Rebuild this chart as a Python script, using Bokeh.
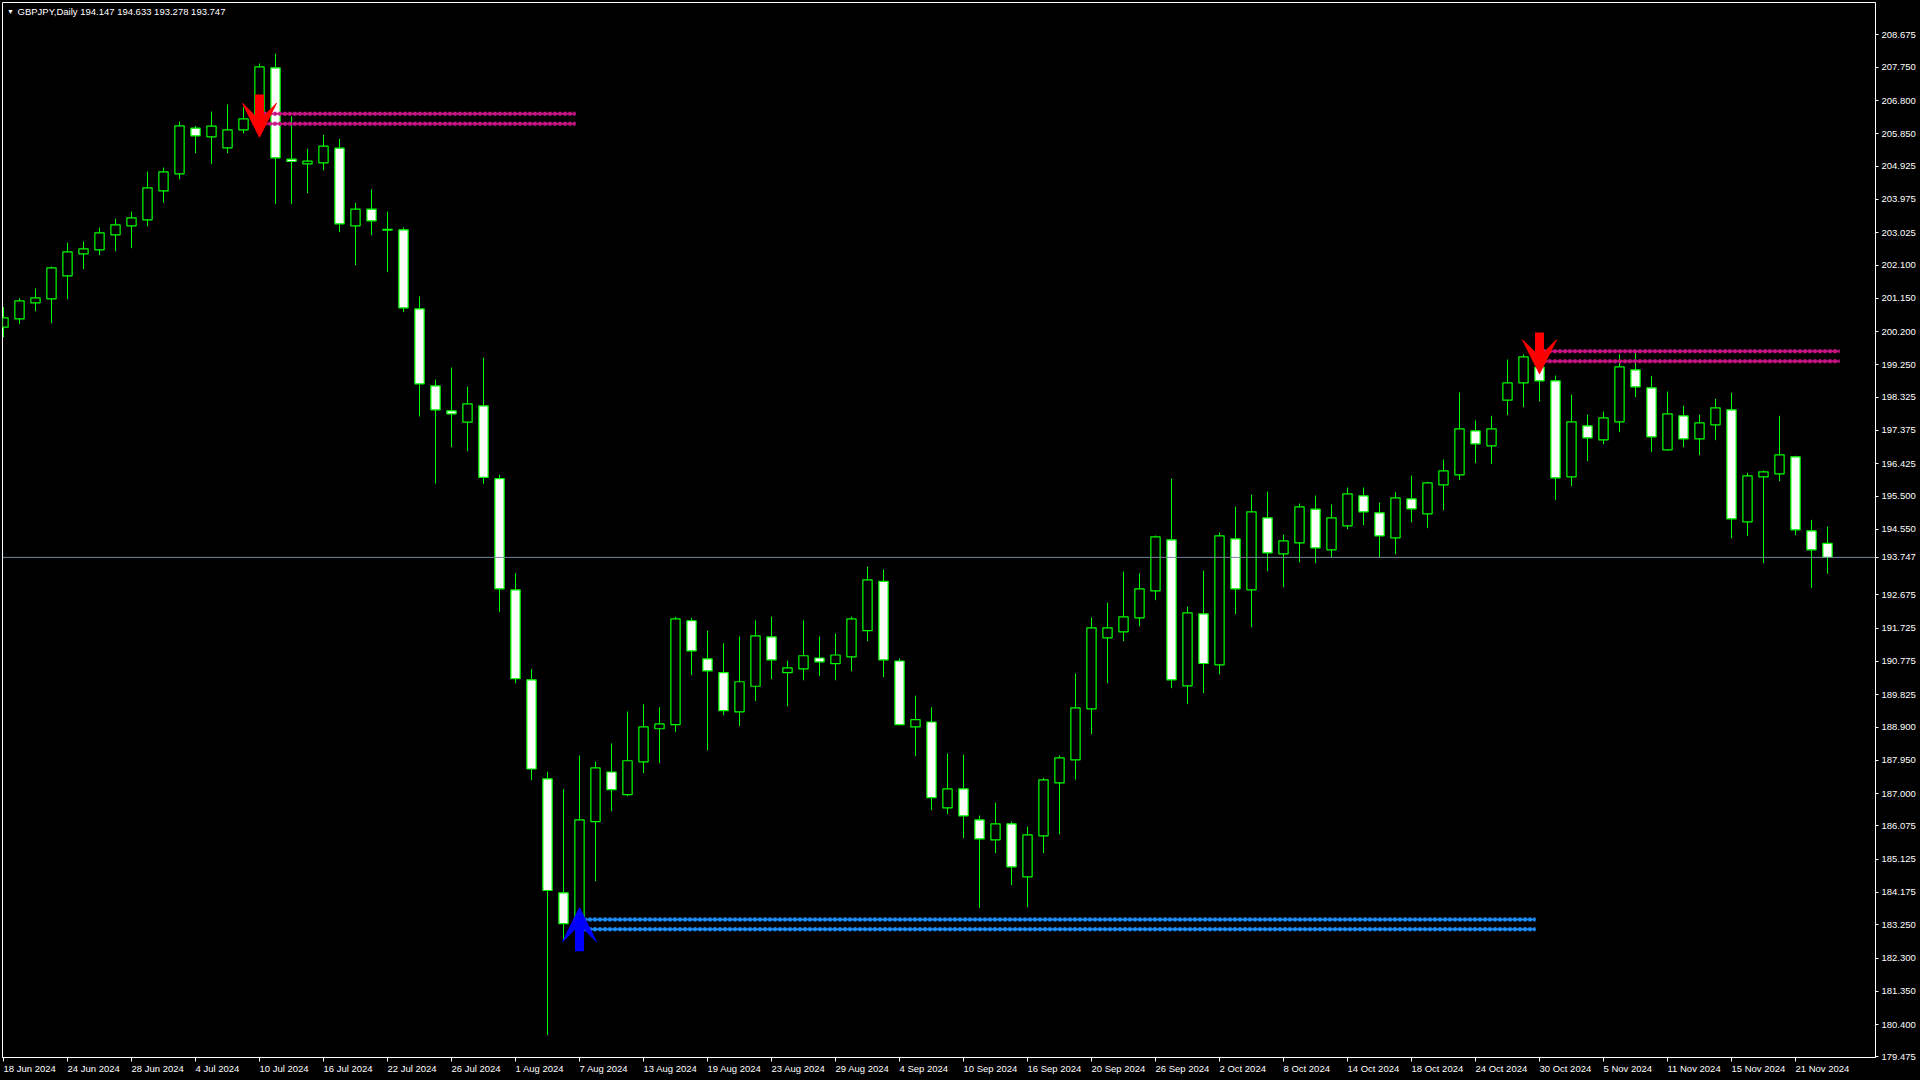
from bokeh.plotting import figure
from bokeh.models import (ColumnDataSource, Range1d, FixedTicker, Label, Arrow,
                          VeeHead, Span, LinearAxis, NumeralTickFormatter)
from bokeh.embed import file_html
from bokeh.resources import INLINE

symbol = "GBPJPY,Daily"

# ---- daily OHLC, 18 Jun 2024 .. 25 Nov 2024 (one value per trading day) ----
opens = [200.325, 200.563, 201.020, 201.134, 201.791, 202.420, 202.534, 202.963, 203.220, 203.391,
         204.220, 204.705, 206.010, 205.763, 205.448, 205.963, 206.270, 207.734, 205.125, 204.991,
         205.020, 205.439, 203.220, 203.696, 203.100, 203.105, 200.848, 198.648, 197.934, 197.610,
         198.077, 195.999, 192.817, 190.248, 187.421, 184.164, 183.350, 186.196, 187.615, 186.970,
         187.905, 188.851, 188.969, 191.936, 190.850, 190.452, 189.335, 190.065, 191.474, 190.452,
         190.560, 190.872, 190.710, 190.904, 191.656, 193.064, 190.786, 188.904, 189.044, 186.593,
         187.134, 186.248, 185.677, 186.134, 184.620, 185.791, 187.305, 187.963, 189.420, 191.448,
         191.620, 192.020, 192.791, 194.248, 190.077, 192.134, 190.677, 194.277, 192.820, 194.877,
         193.848, 194.163, 195.125, 193.963, 194.648, 195.505, 195.020, 194.305, 195.420, 194.991,
         195.820, 196.106, 197.363, 196.934, 198.239, 198.734, 199.182, 198.792, 196.049, 197.506,
         197.106, 197.620, 199.106, 198.592, 196.820, 197.792, 197.134, 197.534, 197.963, 194.763,
         196.049, 196.134, 196.620, 194.506, 194.147]
highs = [200.896, 201.153, 201.429, 202.058, 202.744, 202.772, 203.172, 203.429, 203.629, 204.772,
         204.886, 206.201, 206.077, 206.486, 206.686, 206.610, 207.858, 208.134, 206.353, 205.420,
         205.820, 205.705, 203.877, 204.258, 203.629, 203.172, 201.201, 198.829, 199.172, 198.629,
         199.450, 196.100, 193.290, 190.549, 187.625, 187.120, 188.088, 187.915, 188.432, 189.345,
         189.549, 189.463, 192.050, 192.022, 191.656, 191.291, 191.484, 191.947, 192.054, 190.796,
         191.947, 191.484, 191.570, 192.054, 193.484, 193.398, 190.861, 189.797, 189.463, 188.141,
         188.115, 186.372, 186.744, 186.201, 186.058, 187.448, 188.086, 190.429, 192.029, 192.458,
         193.344, 193.286, 194.372, 196.001, 192.344, 193.372, 194.458, 195.201, 195.544, 195.629,
         194.401, 195.286, 195.515, 195.258, 195.744, 195.744, 195.315, 195.620, 196.086, 195.905,
         196.544, 198.458, 197.658, 197.792, 199.401, 199.550, 199.450, 198.944, 198.401, 197.830,
         197.915, 199.544, 199.592, 198.934, 198.487, 198.077, 197.830, 198.277, 198.449, 196.163,
         196.230, 197.792, 196.650, 194.820, 194.633]
lows = [200.039, 200.410, 200.782, 200.439, 201.125, 201.982, 202.382, 202.496, 202.582, 203.210,
        203.886, 204.553, 205.296, 204.982, 205.296, 205.867, 206.000, 203.839, 203.839, 204.153,
        204.810, 203.039, 202.096, 202.953, 201.896, 200.753, 197.772, 195.858, 196.896, 196.782,
        195.850, 192.183, 190.150, 187.378, 180.101, 182.810, 183.000, 184.498, 186.497, 186.927,
        187.582, 187.873, 188.754, 190.388, 188.238, 189.238, 188.926, 189.646, 190.270, 189.496,
        190.237, 190.356, 190.237, 190.495, 191.355, 190.323, 188.950, 188.066, 186.529, 186.411,
        185.725, 183.725, 185.296, 184.382, 183.753, 185.296, 185.839, 187.401, 188.696, 190.153,
        191.353, 191.782, 192.525, 190.010, 189.553, 189.867, 190.410, 192.125, 191.753, 193.353,
        192.896, 193.610, 193.582, 193.753, 194.553, 194.667, 193.725, 193.839, 194.753, 194.582,
        195.096, 195.954, 196.439, 196.411, 197.811, 198.039, 198.201, 195.382, 195.782, 196.496,
        196.982, 197.325, 198.325, 196.754, 196.800, 196.896, 196.668, 197.096, 194.296, 194.354,
        193.582, 195.925, 194.382, 192.868, 193.278]
closes = [200.591, 201.077, 201.163, 202.020, 202.477, 202.563, 203.020, 203.248, 203.448, 204.305,
          204.763, 206.077, 205.791, 206.067, 205.963, 206.277, 207.764, 205.163, 205.058, 205.067,
          205.496, 203.277, 203.696, 203.363, 203.120, 200.877, 198.705, 197.963, 197.848, 198.134,
          196.031, 192.849, 190.280, 187.701, 184.229, 183.282, 186.249, 187.733, 187.109, 187.937,
          188.904, 188.990, 191.990, 191.076, 190.506, 189.367, 190.194, 191.506, 190.818, 190.592,
          190.936, 190.764, 190.958, 191.990, 193.107, 190.818, 188.969, 189.109, 186.884, 187.131,
          186.363, 185.705, 186.134, 184.905, 185.820, 187.391, 188.020, 189.448, 191.734, 191.734,
          192.048, 192.848, 194.334, 190.248, 192.163, 190.715, 194.363, 192.848, 195.048, 193.877,
          194.220, 195.191, 194.020, 194.877, 195.563, 195.048, 194.363, 195.448, 195.134, 195.877,
          196.220, 197.420, 196.992, 197.420, 198.734, 199.477, 198.792, 196.020, 197.620, 197.163,
          197.734, 199.192, 198.620, 197.192, 197.849, 197.134, 197.592, 198.020, 194.849, 196.077,
          196.192, 196.677, 194.534, 193.963, 193.747]

# ---- axis ticks ----
x_tick_bars = [0, 4, 8, 12, 16, 20, 24, 28, 32, 36, 40, 44, 48, 52, 56, 60, 64, 68, 72, 76,
               80, 84, 88, 92, 96, 100, 104, 108, 112]
x_tick_labels = ["18 Jun 2024", "24 Jun 2024", "28 Jun 2024", "4 Jul 2024", "10 Jul 2024",
                 "16 Jul 2024", "22 Jul 2024", "26 Jul 2024", "1 Aug 2024", "7 Aug 2024",
                 "13 Aug 2024", "19 Aug 2024", "23 Aug 2024", "29 Aug 2024", "4 Sep 2024",
                 "10 Sep 2024", "16 Sep 2024", "20 Sep 2024", "26 Sep 2024", "2 Oct 2024",
                 "8 Oct 2024", "14 Oct 2024", "18 Oct 2024", "24 Oct 2024", "30 Oct 2024",
                 "5 Nov 2024", "11 Nov 2024", "15 Nov 2024", "21 Nov 2024"]
# price scale; the 193.600 mark sits under the bid-price tag, which is shown instead
y_ticks = [208.675, 207.750, 206.800, 205.850, 204.925, 203.975, 203.025, 202.100, 201.150,
           200.200, 199.250, 198.325, 197.375, 196.425, 195.500, 194.550, 192.675,
           191.725, 190.775, 189.825, 188.900, 187.950, 187.000, 186.075, 185.125, 184.175,
           183.250, 182.300, 181.350, 180.400, 179.475]

# ---- signals (arrows) and supply/demand zones ----
signal_bars = [16, 36, 96]
signal_up = [False, True, False]
arrow_tip = [205.752, 183.735, 198.992]
arrow_tail = [206.972, 182.495, 200.172]
zone_start = [16, 36, 96]
zone_end = [36, 96, 115]
zone_upper = [206.421, 183.401, 199.638]
zone_lower = [206.135, 183.124, 199.352]

BULL_FILL = "#000000"
BEAR_FILL = "#FFFFFF"
CANDLE_LINE = "#00FF00"
UP_ZONE = "#1E90FF"
DOWN_ZONE = "#C71585"
FONT = "Liberation Sans"

n = len(opens)
idx = list(range(n))
src = ColumnDataSource(dict(
    x=idx, o=opens, h=highs, l=lows, c=closes,
    top=[max(o, c) for o, c in zip(opens, closes)],
    bottom=[min(o, c) for o, c in zip(opens, closes)],
    fill=[BULL_FILL if c >= o else BEAR_FILL for o, c in zip(opens, closes)],
))

# the canvas is 4px taller than the window (page overflow is hidden) so that the
# date row can sit as low as in the original terminal screenshot
p = figure(width=1920, height=1084, output_backend="svg", toolbar_location=None,
           x_range=Range1d(-0.0625, 117.0), y_range=Range1d(179.458, 209.601),
           x_axis_location=None, y_axis_location=None,
           min_border_left=2, min_border_top=2, min_border_right=45, min_border_bottom=27)
p.background_fill_color = "#000000"
p.border_fill_color = "#000000"
p.outline_line_color = "#FFFFFF"
p.outline_line_width = 1
p.xgrid.visible = False
p.ygrid.visible = False

bid = closes[-1]
y_labels = {t: "%.3f" % t for t in y_ticks}
y_labels[bid] = "%.3f" % bid
yaxis = LinearAxis(ticker=FixedTicker(ticks=sorted(y_ticks + [bid])),
                   formatter=NumeralTickFormatter(format="0.000"),
                   major_label_overrides=y_labels)
xaxis = LinearAxis(ticker=FixedTicker(ticks=x_tick_bars),
                   major_label_overrides={b: t for b, t in zip(x_tick_bars, x_tick_labels)})
for ax in (yaxis, xaxis):
    ax.axis_line_color = "#FFFFFF"
    ax.major_tick_line_color = "#FFFFFF"
    ax.minor_tick_line_color = None
    ax.major_tick_in = 0
    ax.major_label_text_color = "#FFFFFF"
    ax.major_label_text_font = FONT
    ax.major_label_text_font_size = "9.5px"
yaxis.major_tick_out = 3
yaxis.major_label_standoff = 3
xaxis.major_tick_out = 4
xaxis.major_label_standoff = 7
# a practically horizontal orientation makes the labels start at their tick, as in MT4
xaxis.major_label_orientation = -0.0001
p.add_layout(yaxis, "right")
p.add_layout(xaxis, "below")

# bid line
p.add_layout(Span(location=bid, dimension="width", line_color="#778899", line_width=1))

# candles
p.segment(x0="x", y0="l", x1="x", y1="h", source=src, line_color=CANDLE_LINE, line_width=1)
p.vbar(x="x", width=0.58, top="top", bottom="bottom", source=src,
       fill_color="fill", line_color=CANDLE_LINE, line_width=1.2)

# zones (double wavy lines in the original, emulated with textured lines)
zsrc = ColumnDataSource(dict(
    x0=[s + 0.25 for s in zone_start] * 2,
    x1=[e - 0.25 for e in zone_end] * 2,
    y=zone_upper + zone_lower,
    color=[UP_ZONE if u else DOWN_ZONE for u in signal_up] * 2,
))
p.segment(x0="x0", y0="y", x1="x1", y1="y", source=zsrc, line_color="color", line_width=2)
p.segment(x0="x0", y0="y", x1="x1", y1="y", source=zsrc, line_color="color", line_width=4,
          line_dash="3 2")

# signal arrows
for b, up, tip, tail in zip(signal_bars, signal_up, arrow_tip, arrow_tail):
    col = "#0000FF" if up else "#FF0000"
    p.add_layout(Arrow(x_start=b, y_start=tail, x_end=b, y_end=tip, line_color=col, line_width=9,
                       end=VeeHead(size=34, fill_color=col, line_color=col, line_width=1)))

# header
title_text = "%s  %.3f %.3f %.3f %.3f" % (symbol, opens[-1], highs[-1], lows[-1], closes[-1])
p.add_layout(Label(x=8, y=1046.5, x_units="screen", y_units="screen", text="\u25BC",
                   text_color="#FFFFFF", text_font=FONT, text_font_size="7px",
                   text_align="center", text_baseline="middle"))
p.add_layout(Label(x=15, y=1046.5, x_units="screen", y_units="screen", text=title_text,
                   text_color="#FFFFFF", text_font=FONT, text_font_size="9.5px",
                   text_align="left", text_baseline="middle"))

TEMPLATE = """{% block postamble %}<style>html, body { margin: 0 !important; padding: 0 !important;
background: #000000 !important; overflow: hidden !important; }</style>{% endblock %}"""

open("out.html", "w").write(file_html(p, INLINE, title=symbol, template=TEMPLATE))
